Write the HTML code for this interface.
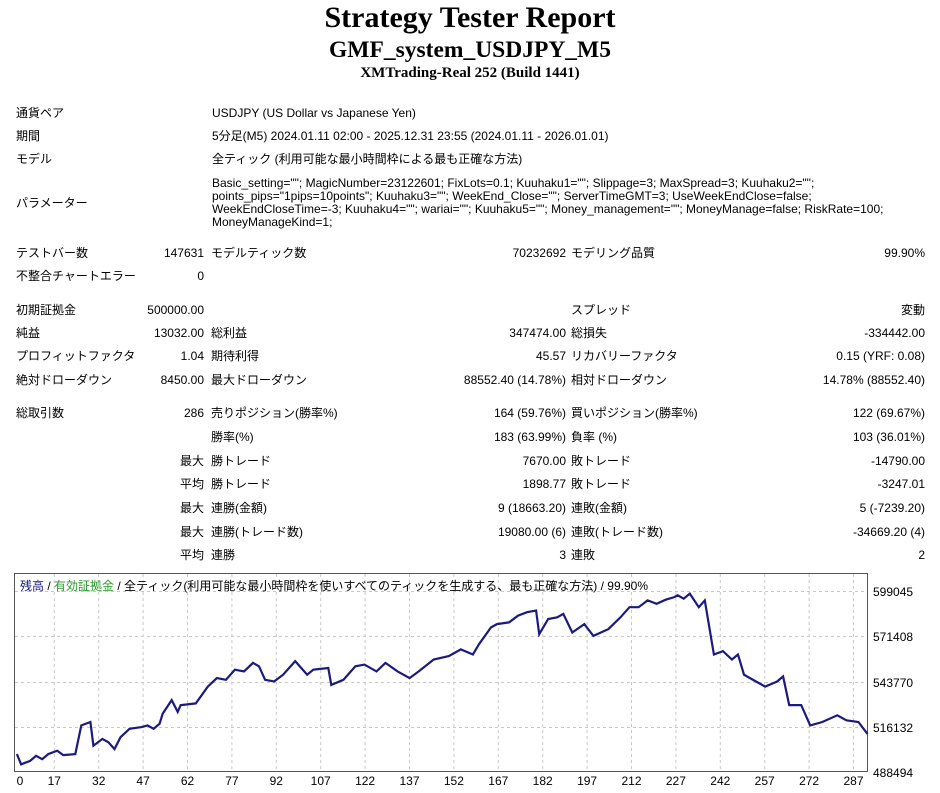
<!DOCTYPE html>
<html><head><meta charset="utf-8">
<style>
body{margin:0;width:940px;height:793px;background:#fff;position:relative;overflow:hidden;font-family:"Liberation Sans","Noto Sans CJK JP",sans-serif;font-size:12px;color:#000}
.t{position:absolute;white-space:nowrap;line-height:14px}
.r{position:absolute;white-space:nowrap;line-height:14px;text-align:right}
h1,h2,h3{margin:0;position:absolute;left:0;width:940px;text-align:center;font-family:"Liberation Serif",serif;font-weight:bold}
</style></head><body>
<h1 style="top:1px;font-size:30px;line-height:34px">Strategy Tester Report</h1>
<h2 style="top:36px;font-size:23.5px;line-height:28px">GMF_system_USDJPY_M5</h2>
<h3 style="top:65px;font-size:15px;line-height:17px">XMTrading-Real 252 (Build 1441)</h3>

<div class="t" style="left:16px;top:106px">通貨ペア</div>
<div class="t" style="left:212px;top:106px">USDJPY (US Dollar vs Japanese Yen)</div>
<div class="t" style="left:16px;top:129px">期間</div>
<div class="t" style="left:212px;top:129px">5分足(M5) 2024.01.11 02:00 - 2025.12.31 23:55 (2024.01.11 - 2026.01.01)</div>
<div class="t" style="left:16px;top:152px">モデル</div>
<div class="t" style="left:212px;top:152px">全ティック (利用可能な最小時間枠による最も正確な方法)</div>
<div class="t" style="left:16px;top:196px">パラメーター</div>
<div class="t" style="left:212px;top:177px;line-height:13px">Basic_setting=""; MagicNumber=23122601; FixLots=0.1; Kuuhaku1=""; Slippage=3; MaxSpread=3; Kuuhaku2="";<br>points_pips="1pips=10points"; Kuuhaku3=""; WeekEnd_Close=""; ServerTimeGMT=3; UseWeekEndClose=false;<br>WeekEndCloseTime=-3; Kuuhaku4=""; wariai=""; Kuuhaku5=""; Money_management=""; MoneyManage=false; RiskRate=100;<br>MoneyManageKind=1;</div>

<div id="rows"></div>

<svg style="position:absolute;left:0;top:570px" width="940" height="223">
<rect x="14.5" y="3.5" width="853" height="198" fill="#fff" stroke="#555" stroke-width="1"/>
<g stroke="#c8c8c8" stroke-dasharray="3,3" stroke-width="1">
<line x1="15" x2="867" y1="21.5" y2="21.5"/><line x1="15" x2="867" y1="66.5" y2="66.5"/><line x1="15" x2="867" y1="112.5" y2="112.5"/><line x1="15" x2="867" y1="157.5" y2="157.5"/>
<g id="vg"></g>
</g>
<polyline id="pl" fill="none" stroke="#1a1a80" stroke-width="2.2" points=""/>
<g font-size="12" font-family="Liberation Sans, sans-serif">
<text x="873" y="26">599045</text><text x="873" y="71">571408</text><text x="873" y="117">543770</text><text x="873" y="162">516132</text><text x="873" y="207">488494</text>
<g id="xl" text-anchor="middle"></g>
</g>
<text x="20" y="20" font-size="12" font-family="Liberation Sans, Noto Sans CJK JP, sans-serif"><tspan fill="#1a1a80">残高</tspan> / <tspan fill="#2a9a2a">有効証拠金</tspan> / 全ティック(利用可能な最小時間枠を使いすべてのティックを生成する、最も正確な方法) / 99.90%</text>
</svg>

<script>
var rows=[
[246,"テストバー数","147631","モデルティック数","70232692","モデリング品質","99.90%"],
[269,"不整合チャートエラー","0","","","",""],
[303,"初期証拠金","500000.00","","","スプレッド","変動"],
[326,"純益","13032.00","総利益","347474.00","総損失","-334442.00"],
[349,"プロフィットファクタ","1.04","期待利得","45.57","リカバリーファクタ","0.15 (YRF: 0.08)"],
[373,"絶対ドローダウン","8450.00","最大ドローダウン","88552.40 (14.78%)","相対ドローダウン","14.78% (88552.40)"],
[406,"総取引数","286","売りポジション(勝率%)","164 (59.76%)","買いポジション(勝率%)","122 (69.67%)"],
[430,"","","勝率(%)","183 (63.99%)","負率 (%)","103 (36.01%)"],
[454,"","最大","勝トレード","7670.00","敗トレード","-14790.00"],
[477,"","平均","勝トレード","1898.77","敗トレード","-3247.01"],
[501,"","最大","連勝(金額)","9 (18663.20)","連敗(金額)","5 (-7239.20)"],
[525,"","最大","連勝(トレード数)","19080.00 (6)","連敗(トレード数)","-34669.20 (4)"],
[548,"","平均","連勝","3","連敗","2"]];
var h="";
rows.forEach(function(r){var y=r[0];
h+='<div class="t" style="left:16px;top:'+y+'px">'+r[1]+'</div>';
h+='<div class="r" style="right:736px;top:'+y+'px">'+r[2]+'</div>';
h+='<div class="t" style="left:211px;top:'+y+'px">'+r[3]+'</div>';
h+='<div class="r" style="right:374px;top:'+y+'px">'+r[4]+'</div>';
h+='<div class="t" style="left:571px;top:'+y+'px">'+r[5]+'</div>';
h+='<div class="r" style="right:15px;top:'+y+'px">'+r[6]+'</div>';});
document.getElementById("rows").innerHTML=h;
var z=[[28,545],[35,575],[50,565],[60,550],[70,560],[80,545],[95,535],[105,548],[125,545],[135,460],[150,450],[155,520],[170,500],[180,510],[190,530],[200,495],[215,470],[235,465],[245,460],[255,470],[265,455],[270,425],[285,385],[295,420],[300,400],[325,395],[345,345],[360,320],[375,325],[390,295],[405,300],[420,275],[430,285],[440,325],[455,330],[470,310],[490,270],[510,310],[520,295],[545,290],[550,340],[570,325],[590,285],[605,280],[625,300],[640,275],[660,300],[680,320],[695,300],[720,265],[745,255],[765,235],[785,250],[795,220],[815,170],[825,160],[845,155],[860,135],[875,125],[890,120],[895,190],[910,145],[925,140],[935,130],[950,185],[970,160],[985,195],[1010,175],[1030,140],[1045,110],[1060,110],[1075,90],[1090,100],[1105,88],[1120,80],[1125,75],[1135,85],[1145,70],[1160,110],[1170,90],[1185,250],[1200,240],[1215,265],[1225,250],[1235,310],[1255,330],[1270,345],[1290,330],[1300,315],[1310,400],[1330,400],[1345,460],[1365,450],[1390,430],[1405,445],[1425,450],[1440,485]];
document.getElementById("pl").setAttribute("points",z.map(function(p){return (p[0]/1.66).toFixed(1)+","+(p[1]/2.96).toFixed(1)}).join(" "));
var vg="",xl="";
for(var i=0;i<20;i++){var n=2+15*i,x=4+n*2.96;
if(i>0)vg+='<line x1="'+x.toFixed(1)+'" x2="'+x.toFixed(1)+'" y1="4" y2="201"/>';
xl+='<text x="'+(i==0?20:x).toFixed(1)+'" y="215">'+(i==0?0:n)+'</text>';}
document.getElementById("vg").innerHTML=vg;
document.getElementById("xl").innerHTML=xl;
</script>
</body></html>
